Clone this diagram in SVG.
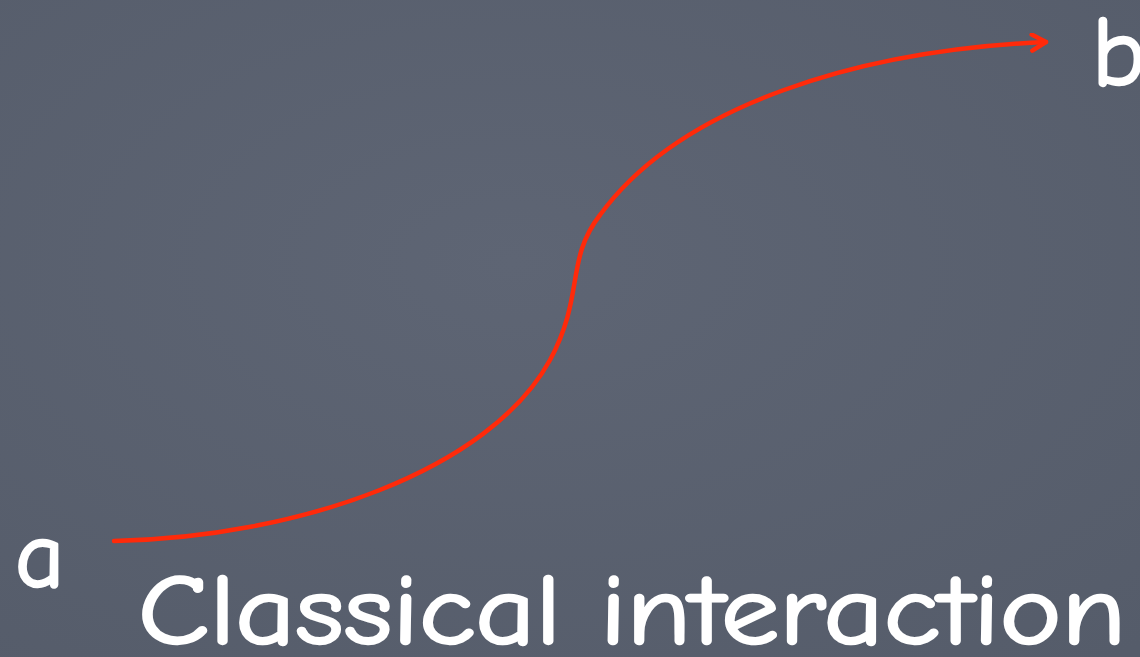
<svg xmlns="http://www.w3.org/2000/svg" width="1140" height="657" viewBox="0 0 1140 657">
<style>
.lbl{fill:#ffffff;stroke:#ffffff;stroke-width:2.5;stroke-linejoin:round;font-family:"Comic Neue","DejaVu Sans","Liberation Sans",sans-serif;}
.edge{fill:none;stroke:#ff2a0a;stroke-width:4.5;stroke-linecap:round;stroke-linejoin:round;}
</style>
<defs>
<radialGradient id="bg" cx="0.45" cy="0.4" r="0.8">
<stop offset="0" stop-color="#5e6574"/>
<stop offset="1" stop-color="#555c6a"/>
</radialGradient>
<marker id="arr" viewBox="0 0 20 20" refX="17" refY="10" markerWidth="20" markerHeight="20" markerUnits="userSpaceOnUse" orient="auto">
<path d="M3,2 L17,10 L3,18" fill="none" stroke="#ff2a0a" stroke-width="4.5" stroke-linecap="round" stroke-linejoin="round"/>
</marker>
</defs>
<rect width="1140" height="657" fill="url(#bg)"/>
<g id="connectors">
<path class="edge" marker-end="url(#arr)" d="M114,541 C300,537 490,470 550,360 C585,295 565,260 600,215 C680,105 860,50 1046,42"/>
</g>
<g id="node-a"><text class="lbl" x="15" y="587" font-size="96">a</text></g>
<g id="node-b"><text class="lbl" x="1092" y="86" font-size="100">b</text></g>
<g id="title"><text class="lbl" x="138" y="644" font-size="100" textLength="988" lengthAdjust="spacingAndGlyphs">Classical interaction</text></g>
</svg>
